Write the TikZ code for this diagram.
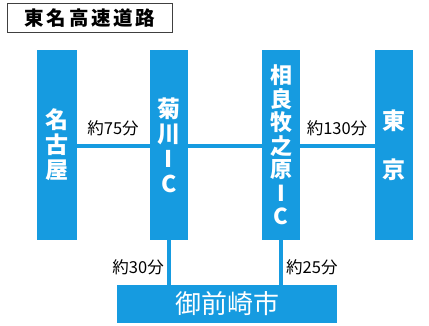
\documentclass[tikz,border=0pt]{standalone}
\usepackage{fontspec}
\setmainfont{Noto Sans CJK JP}
\newfontfamily\jp{Noto Sans CJK JP}
\definecolor{roadblue}{RGB}{22,155,224}
\begin{document}
\begin{tikzpicture}[x=1pt,y=-1pt,
  bar/.style={fill=roadblue,draw=none,minimum width=38pt,minimum height=190pt,inner sep=0pt,
    text=white,align=center,font=\jp\bfseries\fontsize{23}{25}\selectfont},
  road/.style={draw=roadblue,line width=4.6pt},
  lbl/.style={font=\jp\fontsize{16.5}{18}\selectfont,text=black,inner sep=1pt}]
\useasboundingbox (0,0) rectangle (429,326);
\fill[white] (0,0) rectangle (429,326);
% title
\node[draw=black!75,line width=1pt,minimum width=165pt,minimum height=29pt,inner sep=0pt,
  font=\jp\bfseries\fontsize{19.5}{22}\selectfont\addfontfeatures{LetterSpace=14}] (title) at (90,18) {東名高速道路};
% bars
\node[bar,minimum width=40pt] (nagoya) at (57,145) {名\\古\\屋};
\node[bar] (kiku) at (169,145) {菊\\川\\I\\C};
\node[bar,font=\jp\bfseries\fontsize{22}{23.5}\selectfont] (sagara) at (281,145) {相\\良\\牧\\之\\原\\I\\C};
\node[bar] (tokyo) at (394,145) {東\\[24pt]京};
\node[fill=roadblue,minimum width=220pt,minimum height=38pt,inner sep=0pt,text=white,
  font=\jp\fontsize{26}{28}\selectfont] (omae) at (227,304) {御前崎市};
% roads
\coordinate (k) at (169,146);
\coordinate (s) at (281,146);
\draw[road] (nagoya.east |- k) -- (kiku.west |- k);
\draw[road] (kiku.east |- k) -- (sagara.west |- s);
\draw[road] (sagara.east |- s) -- (tokyo.west |- s);
\draw[road] (kiku.south) -- (kiku.south |- omae.north);
\draw[road] (sagara.south) -- (sagara.south |- omae.north);
% labels
\node[lbl] (l75) at (113,128) {約75分};
\node[lbl] (l130) at (337,128) {約130分};
\node[lbl,anchor=east] (l30) at (165,267) {約30分};
\node[lbl,anchor=west] (l25) at (285,267) {約25分};
\end{tikzpicture}
\end{document}
